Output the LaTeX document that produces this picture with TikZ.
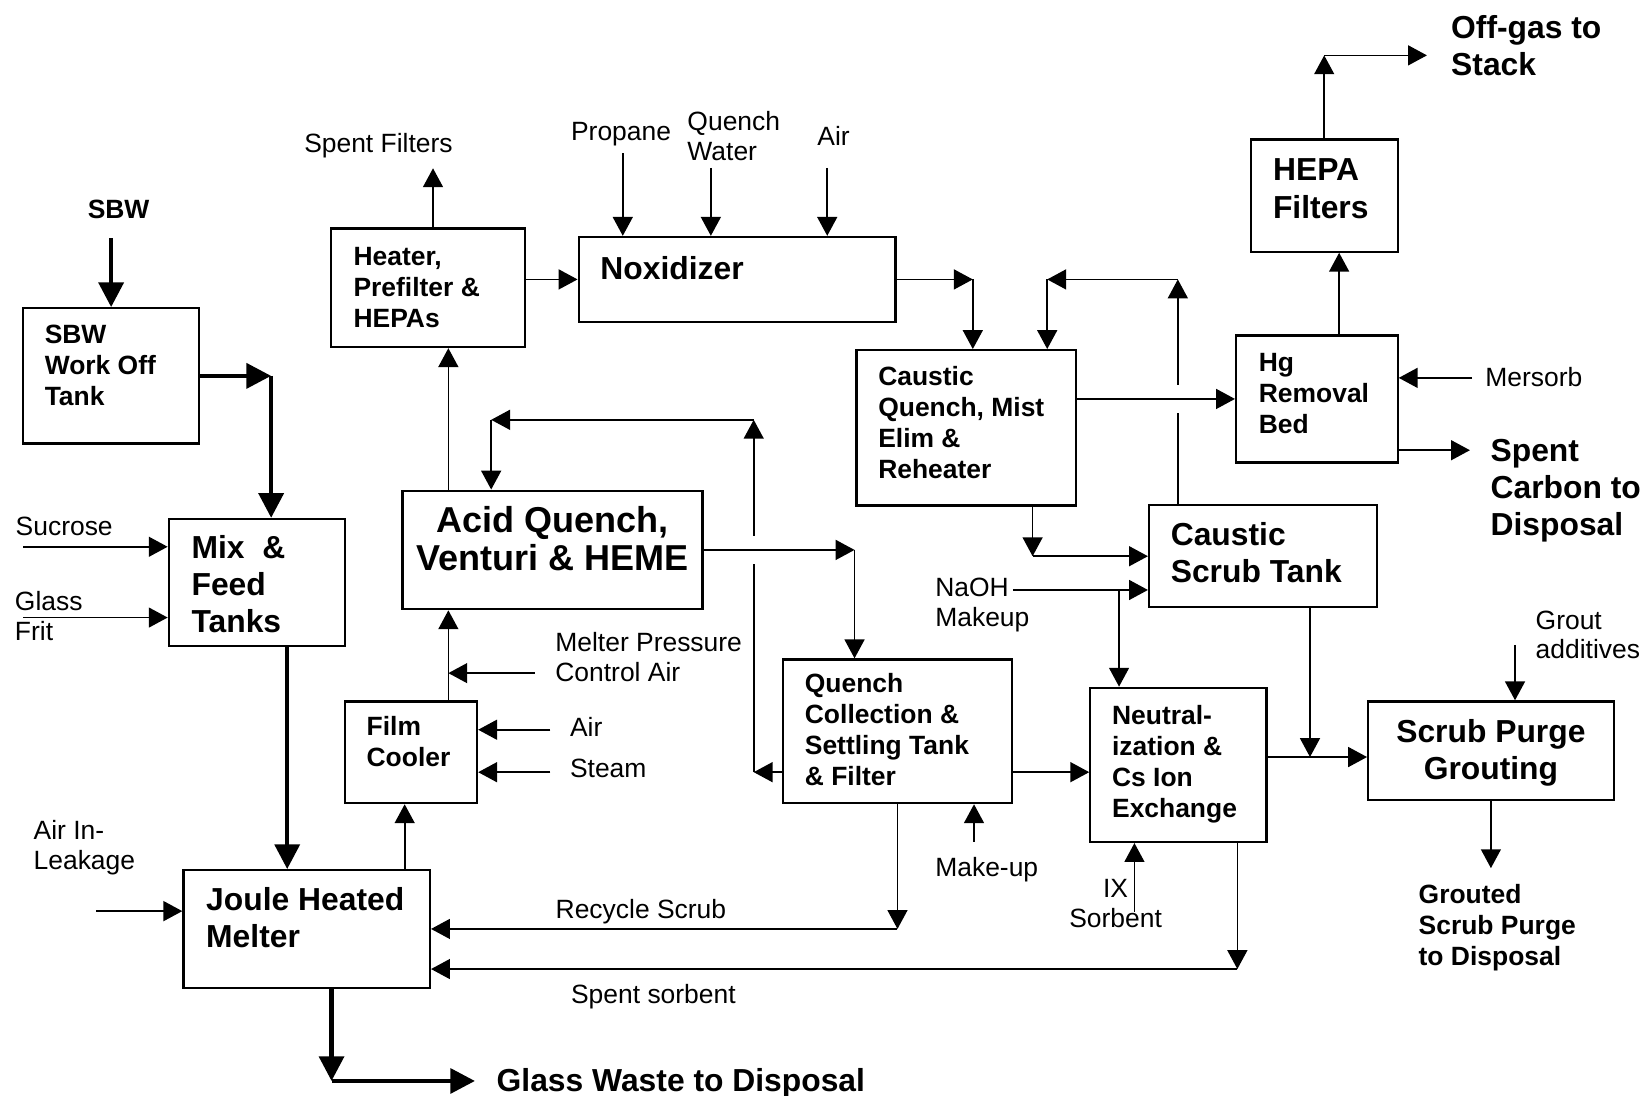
\documentclass[tikz,border=0pt]{standalone}
\usepackage{fontspec}
\setmainfont{Liberation Sans}
\usetikzlibrary{arrows.meta, calc, positioning}

\begin{document}
\begin{tikzpicture}[
  x=0.01cm, y=-0.01cm,
  box/.style={draw, line width=0.6pt, inner sep=0pt},
  btxt/.style={font=\fontsize{7.17}{8.4}\selectfont\bfseries, align=left,
               inner sep=0pt, anchor=base west},
  bbig/.style={font=\fontsize{8.63}{10.1}\selectfont\bfseries, align=left,
               inner sep=0pt, anchor=base west},
  lbl/.style={font=\fontsize{7.17}{8.1}\selectfont, align=left,
              inner sep=0pt, anchor=base west},
  arr/.style={-{Triangle[length=0.18cm, width=0.19cm]}, line width=0.45pt},
  thk/.style={-{Triangle[length=0.235cm, width=0.235cm]}, line width=1.2pt},
]
  \useasboundingbox (0,0) rectangle (1568,1045);

  %% ── Boxes ──
  \node[box, minimum width=1.68cm, minimum height=1.29cm] (sbw)   at (106,358.5)   {};
  \node[box, minimum width=1.85cm, minimum height=1.13cm] (heat)  at (408.5,274.5) {};
  \node[box, minimum width=3.02cm, minimum height=0.81cm] (nox)   at (703,266.5)   {};
  \node[box, minimum width=1.68cm, minimum height=1.21cm] (mix)   at (245,555.5)   {};
  \node[box, minimum width=2.86cm, minimum height=1.13cm] (acid)  at (527,524.5)   {};
  \node[box, minimum width=1.26cm, minimum height=0.97cm] (film)  at (392,717.5)   {};
  \node[box, minimum width=2.35cm, minimum height=1.12cm] (joule) at (292.5,886)   {};
  \node[box, minimum width=2.09cm, minimum height=1.48cm] (cq)    at (921.5,408)   {};
  \node[box, minimum width=2.18cm, minimum height=1.37cm] (qc)    at (856,697.5)   {};
  \node[box, minimum width=1.40cm, minimum height=1.07cm] (hepa)  at (1263,186.5)  {};
  \node[box, minimum width=1.54cm, minimum height=1.21cm] (hg)    at (1256,380.5)  {};
  \node[box, minimum width=2.17cm, minimum height=0.97cm] (cst)   at (1204.5,530.5){};
  \node[box, minimum width=1.68cm, minimum height=1.47cm] (neut)  at (1124,729.5)  {};
  \node[box, minimum width=2.34cm, minimum height=0.94cm] (spg)   at (1422,716)    {};

  %% ── Box texts (placed by baseline of last line) ──
  \node[btxt] (sbw-t)  at (42,386.5)   {SBW\\Work Off\\Tank};
  \node[btxt] (heat-t) at (336.5,312)  {Heater,\\Prefilter \&\\HEPAs};
  \node[bbig] (nox-t)  at (572,266.5)  {Noxidizer};
  \node[bbig] (mix-t)  at (182,603.5)  {Mix~~\&\\Feed\\Tanks};
  \node[font=\fontsize{9.77}{10.3}\selectfont\bfseries, align=center,
        inner sep=0pt, anchor=base] (acid-t) at (527,544)
    {Acid Quench,\\Venturi \& HEME};
  \node[btxt] (film-t) at (349,731.5)  {Film\\Cooler};
  \node[bbig] (joule-t) at (196,903.5) {Joule Heated\\Melter};
  \node[btxt] (cq-t)   at (837,456.5)  {Caustic\\Quench, Mist\\Elim \&\\Reheater};
  \node[btxt] (qc-t)   at (767,749.3)  {Quench\\Collection \&\\Settling Tank\\\& Filter};
  \node[bbig] (hepa-t) at (1213.5,208) {HEPA\\Filters};
  \node[btxt] (hg-t)   at (1200,413.8) {Hg\\Removal\\Bed};
  \node[bbig] (cst-t)  at (1116,555.7) {Caustic\\Scrub Tank};
  \node[btxt] (neut-t) at (1060,779.5) {Neutral-\\ization \&\\Cs Ion\\Exchange};
  \node[bbig, align=center, anchor=base] (spg-t) at (1422,743.3)
    {Scrub Purge\\Grouting};

  %% ── Stream labels ──
  \node[btxt] (sbw-l)    at (83,208.5)   {SBW};
  \node[lbl]  (filt-l)   at (289.5,145)  {Spent Filters};
  \node[lbl]  (prop-l)   at (544,134)    {Propane};
  \node[lbl]  (qwat-l)   at (655,153.2)  {Quench\\Water};
  \node[lbl]  (nair-l)   at (779,139)    {Air};
  \node[lbl]  (suc-l)    at (14.3,511)   {Sucrose};
  \node[lbl]  (frit-l)   at (13.6,610.5) {Glass\\Frit};
  \node[lbl]  (leak-l)   at (31.4,829.5) {Air In-\\Leakage};
  \node[lbl]  (mpca-l)   at (529,650)    {Melter Pressure\\Control Air};
  \node[lbl]  (fair-l)   at (543,702.5)  {Air};
  \node[lbl]  (fstm-l)   at (543,741.5)  {Steam};
  \node[lbl]  (recy-l)   at (529.3,876.5){Recycle Scrub};
  \node[lbl]  (sorb-l)   at (544,957)    {Spent sorbent};
  \node[lbl]  (mkup-l)   at (891.4,835.5){Make-up};
  \node[lbl]  (naoh-l)   at (891.4,597.5){NaOH\\Makeup};
  \node[lbl, align=center, anchor=base] (ixs-l) at (1064,884.5) {IX\\Sorbent};
  \node[lbl]  (mers-l)   at (1416,368.5) {Mersorb};
  \node[lbl]  (grout-l)  at (1464,628.5) {Grout\\additives};
  \node[bbig] (glass-l)  at (473,1041.5) {Glass Waste to Disposal};
  \node[bbig] (stack-l)  at (1383.4,71.8){Off-gas to\\Stack};
  \node[bbig] (carb-l)   at (1421,511.2) {Spent\\Carbon to\\Disposal};
  \node[btxt] (grtd-l)   at (1352.4,921) {Grouted\\Scrub Purge\\to Disposal};

  %% ── Free ends ──
  \coordinate (sbwin) at (106,227);
  \coordinate (sucin) at (22,521.5);
  \coordinate (frin)  at (22,589);
  \coordinate (airlk) at (92,869);
  \coordinate (glass) at (453,1031);
  \coordinate (filt)  at (413,160.5);
  \coordinate (prop)  at (594,146);
  \coordinate (qwat)  at (678,160);
  \coordinate (nair)  at (789,160);
  \coordinate (mpca)  at (510,642);
  \coordinate (fair)  at (525,696);
  \coordinate (fstm)  at (525,736.5);
  \coordinate (naoh)  at (966,562.7);
  \coordinate (grout) at (1445,615);
  \coordinate (grtd)  at (1416.7,828);
  \coordinate (mkup)  at (929,803);
  \coordinate (ixs)   at (1082,869.5);
  \coordinate (stack) at (1361,52.8);
  \coordinate (mers)  at (1404,360.4);
  \coordinate (carb)  at (1402,428.5);

  %% ── Bend points ──
  \coordinate (c1)  at ($(mix.north west)!0.58!(mix.north east)$);
  \coordinate (c2)  at ($(mix.south west)!0.67!(mix.south east)$);
  \coordinate (c3)  at ($(joule.south west)!0.6!(joule.south east)$);
  \coordinate (c4)  at ($(joule.north west)!0.894!(joule.north east)$);
  \coordinate (c5)  at ($(film.north west)!0.778!(film.north east)$);
  \coordinate (c6)  at ($(cq.north west)!0.53!(cq.north east)$);
  \coordinate (c7)  at ($(cst.north west)!0.13!(cst.north east)$);
  \coordinate (c8)  at ($(cq.north west)!0.866!(cq.north east)$);
  \coordinate (c9)  at ($(cq.south west)!0.8!(cq.south east)$);
  \coordinate (c11) at ($(neut.north west)!0.167!(neut.north east)$);
  \coordinate (c12) at ($(cst.south west)!0.705!(cst.south east)$);
  \coordinate (c13) at ($(neut.north east)!0.45!(neut.south east)$);
  \coordinate (c14) at ($(qc.north east)!0.78!(qc.south east)$);
  \coordinate (c15) at ($(qc.north west)!0.78!(qc.south west)$);
  \coordinate (c16) at ($(acid.north west)!0.297!(acid.north east)$);
  \coordinate (c17) at ($(c15)+(-27,0)$);
  \coordinate (c18) at ($(c16)+(0,-66.5)$);
  \coordinate (c19) at ($(qc.north west)!0.314!(qc.north east)$);
  \coordinate (c21) at ($(neut.south west)!0.83!(neut.south east)$);
  \coordinate (c22) at ($(joule.north east)!0.835!(joule.south east)$);
  \coordinate (c23) at ($(hg.north west)!0.636!(hg.north east)$);
  \coordinate (c24) at ($(hg.north east)!0.897!(hg.south east)$);

  %% ═══════ MAIN FEED (thick) ═══════
  \draw[thk] (sbwin) -- (sbw.north);
  \draw[thk] (sbw.east) -- (sbw.east -| c1);
  \draw[thk] (sbw.east -| c1) -- (c1);
  \draw[thk] (c2) -- (c2 |- joule.north);
  \draw[thk] (c3) -- (c3 |- glass);
  \draw[thk] (c3 |- glass) -- (glass);

  %% ═══════ INPUTS ═══════
  \draw[arr] (sucin) -- (sucin -| mix.west);
  \draw[arr] (frin) -- (frin -| mix.west);
  \draw[arr] (airlk) -- (airlk -| joule.west);
  \draw[arr] (mpca) -- (mpca -| c5);
  \draw[arr] (fair) -- (fair -| film.east);
  \draw[arr] (fstm) -- (fstm -| film.east);
  \draw[arr] (prop) -- (prop |- nox.north);
  \draw[arr] (qwat) -- (qwat |- nox.north);
  \draw[arr] (nair) -- (nair |- nox.north);
  \draw[arr] (naoh) -- (naoh -| cst.west);
  \draw[arr] (c11 |- naoh) -- (c11);
  \draw[arr] (grout) -- (grout |- spg.north);
  \draw[arr] (mkup) -- (mkup |- qc.south);
  \draw[arr] (ixs) -- (ixs |- neut.south);
  \draw[arr] (mers) -- (mers -| hg.east);

  %% ═══════ OFF-GAS TRAIN ═══════
  \draw[arr] (c4) -- (c4 |- film.south);
  \draw[arr] (c5) -- (c5 |- acid.south);
  \draw[arr] (c5 |- acid.north) -- (c5 |- heat.south);
  \draw[arr] (filt |- heat.north) -- (filt);
  \draw[arr] (heat.east |- nox.west) -- (nox.west);
  \draw[arr] (nox.east) -- (nox.east -| c6);
  \draw[arr] (nox.east -| c6) -- (c6);
  \draw[arr] (cq.east |- hg.west) -- (hg.west);
  \draw[arr] (c23) -- (c23 |- hepa.south);
  \draw[arr] (hepa.north) -- (hepa.north |- stack);
  \draw[arr] (hepa.north |- stack) -- (stack);
  \draw[arr] (c24) -- (c24 -| carb);

  %% ═══════ SCRUB LOOPS ═══════
  \draw[arr] (c7) -- ($(c7 |- hg.west)+(0,13.5)$)
    ($(c7 |- hg.west)-(0,13.5)$) -- (c7 |- nox.east);
  \draw[arr] (c7 |- nox.east) -- (c8 |- nox.east);
  \draw[arr] (c8 |- nox.east) -- (c8);
  \draw[arr] (c9) -- (c9 |- cst.west);
  \draw[arr] (c9 |- cst.west) -- (cst.west);
  \draw[arr] (c12) -- (c12 |- c13);
  \draw[arr] (c13) -- (c13 -| spg.west);
  \draw[arr] (spg.south) -- (spg.south |- grtd);

  \draw[arr] (acid.east) -- (acid.east -| c19);
  \draw[arr] (acid.east -| c19) -- (c19);
  \draw[arr] (c15) -- (c17);
  \draw[arr] (c17) -- ($(c17 |- acid.east)+(0,13.5)$)
    ($(c17 |- acid.east)-(0,13.5)$) -- (c17 |- c18);
  \draw[arr] (c17 |- c18) -- (c18);
  \draw[arr] (c18) -- (c16);
  \draw[arr] (c14) -- (c14 -| neut.west);

  %% ═══════ RETURNS TO MELTER ═══════
  \draw[arr] (qc.south) -- (qc.south |- joule.east);
  \draw[arr] (qc.south |- joule.east) -- (joule.east);
  \draw[arr] (c21) -- (c21 |- c22);
  \draw[arr] (c21 |- c22) -- (c22);
\end{tikzpicture}
\end{document}
